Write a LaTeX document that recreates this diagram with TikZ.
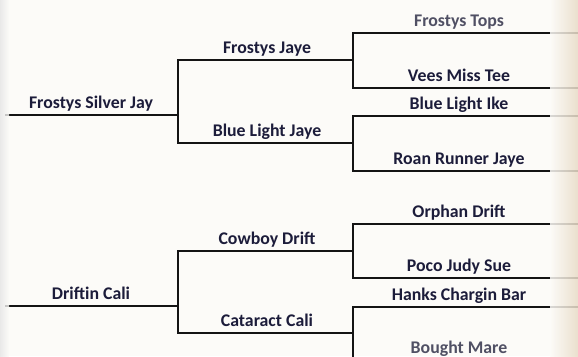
\documentclass[tikz,border=0pt]{standalone}
\usepackage{fontspec}
\setmainfont{Carlito}
\usepackage{xcolor}
\usetikzlibrary{positioning}

\definecolor{paper}{HTML}{FCFBF8}
\definecolor{ink}{HTML}{1C1C3A}
\definecolor{faded}{HTML}{505064}
\definecolor{tan}{HTML}{E8DBC6}

\tikzset{
  horse/.style={font=\bfseries\fontsize{17.8}{19}\selectfont, text=ink, inner sep=0pt, anchor=base},
  link/.style={line width=2.7pt, draw=black!92}
}

\begin{document}
\begin{tikzpicture}[x=1pt,y=-1pt]
   \useasboundingbox (0,0) rectangle (578,356);
   \clip (0,0) rectangle (578,356);
   \fill[paper] (0,0) rectangle (578,356);

   % joints of the top half
   \coordinate (r1) at (5,115);   \coordinate (k1) at (178,115);
   \coordinate (p1) at (178,60);  \coordinate (q1) at (353,60);
   \coordinate (p2) at (178,143); \coordinate (q2) at (353,143);
   \coordinate (t1) at (353,33);  \coordinate (u1) at (580,33);
   \coordinate (t2) at (353,88);  \coordinate (u2) at (580,88);
   \coordinate (t3) at (353,116); \coordinate (u3) at (580,116);
   \coordinate (t4) at (353,171); \coordinate (u4) at (580,171);
   % joints of the bottom half
   \coordinate (r2) at (5,306);   \coordinate (k2) at (178,306);
   \coordinate (p3) at (178,251); \coordinate (q3) at (353,251);
   \coordinate (p4) at (178,333); \coordinate (q4) at (353,333);
   \coordinate (t5) at (353,224); \coordinate (u5) at (580,224);
   \coordinate (t6) at (353,278); \coordinate (u6) at (580,278);
   \coordinate (t7) at (353,307); \coordinate (u7) at (580,307);
   \coordinate (t8) at (353,364); \coordinate (u8) at (580,364);

   \draw[link] (r1) -- (k1);
   \draw[link] (q1) -- (p1) |- (q2);
   \draw[link] (u1) -- (t1) |- (u2);
   \draw[link] (u3) -- (t3) |- (u4);
   \draw[link] (r2) -- (k2);
   \draw[link] (q3) -- (p3) |- (q4);
   \draw[link] (u5) -- (t5) |- (u6);
   \draw[link] (u7) -- (t7) |- (u8);

   % names
   \node[horse] (fsj) at (91,108) {Frostys Silver Jay};
   \node[horse] (fj)  at (267,53)  {Frostys Jaye};
   \node[horse] (blj) at (267,136) {Blue Light Jaye};
   \node[horse, text=faded] (ft) at (459,26) {Frostys Tops};
   \node[horse] (vmt) at (459,81)  {Vees Miss Tee};
   \node[horse] (bli) at (459,109) {Blue Light Ike};
   \node[horse] (rrj) at (459,164) {Roan Runner Jaye};
   \node[horse] (dc)  at (91,299)  {Driftin Cali};
   \node[horse] (cd)  at (267,244) {Cowboy Drift};
   \node[horse] (cc)  at (267,326) {Cataract Cali};
   \node[horse] (od)  at (459,217) {Orphan Drift};
   \node[horse] (pjs) at (459,271) {Poco Judy Sue};
   \node[horse] (hcb) at (459,300) {Hanks Chargin Bar};
   \node[horse, text=faded] (bm) at (459,353) {Bought Mare};

   % worn edges of the page
   \shade[left color=paper, right color=tan, opacity=0.85] (550,0) rectangle (578,356);
   \shade[left color=black!10, right color=paper, opacity=0.8] (0,0) rectangle (9,356);
\end{tikzpicture}
\end{document}
